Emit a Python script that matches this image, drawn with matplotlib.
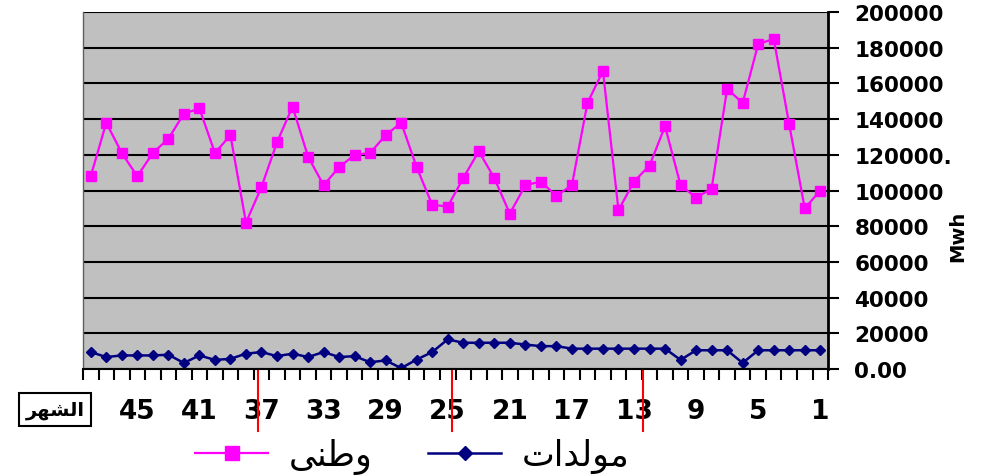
import numpy as np
import matplotlib.pyplot as plt
from matplotlib.ticker import FixedLocator, FixedFormatter

# months run 48 -> 1 from left to right
months = list(range(48, 0, -1))
national = [108000, 138000, 121000, 108000, 121000, 129000, 143000, 146000, 121000, 131000,
            82000, 102000, 127000, 147000, 119000, 103000, 113000, 120000, 121000, 131000,
            138000, 113000, 92000, 91000, 107000, 122000, 107000, 87000, 103000, 105000,
            97000, 103000, 149000, 167000, 89000, 105000, 114000, 136000, 103000, 96000,
            101000, 157000, 149000, 182000, 185000, 137000, 90000, 100000]
generators = [9500, 6700, 7600, 7600, 7600, 8000, 3400, 7600, 5100, 5700,
              8600, 9500, 7200, 8600, 6700, 9500, 6700, 7200, 3800, 4800,
              500, 5300, 9500, 16600, 14700, 14700, 14700, 14700, 13700, 12800,
              12800, 11400, 11400, 11400, 11400, 11400, 11400, 11400, 5100, 10500,
              10500, 10500, 3400, 10500, 10500, 10500, 10500, 10500]
x_labels = [45, 41, 37, 33, 29, 25, 21, 17, 13, 9, 5, 1]
y_ticks = [0, 20000, 40000, 60000, 80000, 100000, 120000, 140000, 160000, 180000, 200000]
y_labels = ['0.00', '20000', '40000', '60000', '80000', '100000', '120000.',
            '140000', '160000', '180000', '200000']
year_marks = [37.2, 24.7, 12.4]

label_national = 'وطنى'
label_generators = 'مولدات'
label_month = 'الشهر'

# tiny arabic shaper (matplotlib has no text shaping)
FORMS = {
    'ا': ('\uFE8D', '\uFE8E', None, None),
    'ل': ('\uFEDD', '\uFEDE', '\uFEDF', '\uFEE0'),
    'ش': ('\uFEB5', '\uFEB6', '\uFEB7', '\uFEB8'),
    'ه': ('\uFEE9', '\uFEEA', '\uFEEB', '\uFEEC'),
    'ر': ('\uFEAD', '\uFEAE', None, None),
    'و': ('\uFEED', '\uFEEE', None, None),
    'ط': ('\uFEC1', '\uFEC2', '\uFEC3', '\uFEC4'),
    'ن': ('\uFEE5', '\uFEE6', '\uFEE7', '\uFEE8'),
    'ى': ('\uFEEF', '\uFEF0', None, None),
    'م': ('\uFEE1', '\uFEE2', '\uFEE3', '\uFEE4'),
    'د': ('\uFEA9', '\uFEAA', None, None),
    'ت': ('\uFE95', '\uFE96', '\uFE97', '\uFE98'),
}

def shape(s):
    out = []
    for i, ch in enumerate(s):
        f = FORMS[ch]
        prev_joins = i > 0 and FORMS[s[i - 1]][2] is not None
        next_joins = i < len(s) - 1 and f[2] is not None
        if prev_joins and next_joins:
            out.append(f[3])
        elif prev_joins:
            out.append(f[1])
        elif next_joins:
            out.append(f[2])
        else:
            out.append(f[0])
    return ''.join(reversed(out))

plt.rcParams['font.family'] = ['DejaVu Sans']

fig = plt.figure(figsize=(9.82, 4.77), dpi=100)
ax = fig.add_axes([0.0845, 0.2243, 0.7587, 0.7484])
ax.set_facecolor('#c0c0c0')

ax.plot(months, national, color='#ff00ff', lw=1.6, marker='s', ms=7.5,
        label=shape(label_national))
ax.plot(months, generators, color='#000080', lw=1.8, marker='D', ms=5.5,
        label=shape(label_generators))

ax.set_xlim(48.5, 0.5)
ax.set_ylim(0, 200000)

ax.yaxis.set_major_locator(FixedLocator(y_ticks))
ax.yaxis.set_major_formatter(FixedFormatter(y_labels))
ax.yaxis.tick_right()
ax.grid(axis='y', color='black', lw=1.5)
ax.set_axisbelow(True)
ax.tick_params(axis='y', direction='out', length=8, width=1.5, pad=11,
               labelsize=15.5)
for t in ax.get_yticklabels():
    t.set_fontweight('bold')

ax.set_xticks(x_labels)
ax.set_xticklabels([str(v) for v in x_labels], fontsize=19, fontweight='bold')
ax.set_xticks(np.arange(0.5, 49, 1), minor=True)
ax.tick_params(axis='x', which='major', length=0, pad=21)
ax.tick_params(axis='x', which='minor', length=8, width=1.5, direction='out')

ax.spines['top'].set_visible(False)
ax.spines['left'].set_color('#606060')
ax.spines['left'].set_linewidth(1)
ax.spines['right'].set_linewidth(2)
ax.spines['bottom'].set_linewidth(1.5)

# red year separators below the axis
trans = ax.get_xaxis_transform()
for m in year_marks:
    ax.plot([m, m], [0, -0.175], color='red', lw=1.5, transform=trans, clip_on=False)

fig.text(0.975, 0.505, 'Mwh', rotation=90, fontsize=14, fontweight='bold',
         ha='center', va='center')

fig.text(0.056, 0.14, shape(label_month), fontsize=14, fontweight='bold',
         ha='center', va='center',
         bbox=dict(boxstyle='square,pad=0.35', fc='white', ec='black', lw=1.5))

leg = fig.legend(loc='center', bbox_to_anchor=(0.42, 0.042), ncol=2,
                 frameon=False, fontsize=25, handlelength=2.1,
                 handletextpad=0.6, columnspacing=1.6, markerscale=1.3)

fig.savefig('out.png', dpi=100)
